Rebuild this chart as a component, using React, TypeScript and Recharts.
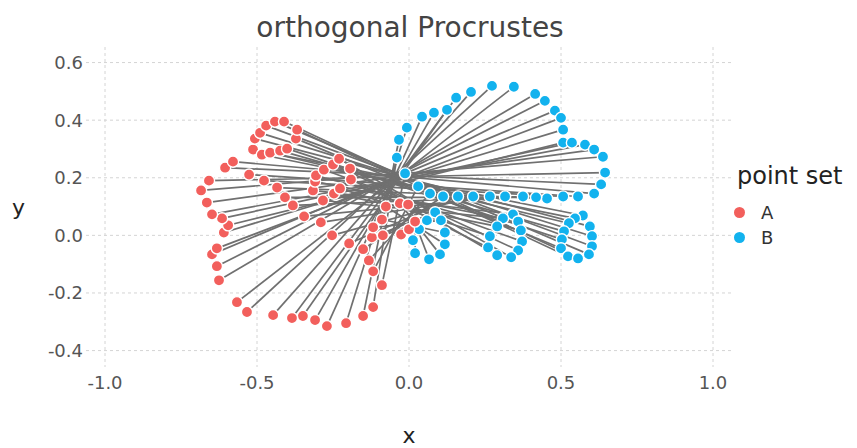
import { CartesianGrid, ReferenceLine, Scatter, ScatterChart, XAxis, YAxis } from 'recharts';

// point set B (outline, then the three loops)
const bX = [
  -0.013, -0.04, -0.033, -0.007, 0.043, 0.082, 0.125, 0.155, 0.204, 0.273, 0.345, 0.415,
  0.447, 0.48, 0.5, 0.507, 0.507, 0.536, 0.579, 0.609, 0.638, 0.645, 0.632, 0.609,
  0.556, 0.507, 0.454, 0.418, 0.375, 0.316, 0.266, 0.211, 0.161, 0.112, 0.069, 0.03,
  0.086, 0.059, 0.105, 0.033, 0.118, 0.013, 0.118, 0.02, 0.102, 0.066,
  0.342, 0.309, 0.359, 0.29, 0.368, 0.266, 0.372, 0.26, 0.359, 0.29, 0.336,
  0.572, 0.546, 0.526, 0.595, 0.51, 0.602, 0.503, 0.602, 0.5, 0.592, 0.523, 0.556,
];
const bY = [
  0.215, 0.27, 0.332, 0.374, 0.412, 0.426, 0.436, 0.478, 0.498, 0.519, 0.516, 0.491,
  0.467, 0.433, 0.408, 0.367, 0.322, 0.322, 0.315, 0.298, 0.273, 0.218, 0.177, 0.145,
  0.135, 0.135, 0.128, 0.132, 0.135, 0.135, 0.135, 0.135, 0.135, 0.135, 0.145, 0.17,
  0.08, 0.052, 0.052, 0.021, 0.01, -0.017, -0.031, -0.062, -0.066, -0.083,
  0.073, 0.059, 0.048, 0.031, 0.017, -0.003, -0.021, -0.042, -0.052, -0.069, -0.076,
  0.069, 0.059, 0.042, 0.031, 0.014, -0.003, -0.014, -0.038, -0.045, -0.066, -0.073, -0.08,
];

// point set A, same order as B
const aX = [
  -0.089, -0.118, -0.151, -0.207, -0.27, -0.309, -0.349, -0.385, -0.447, -0.533, -0.566, -0.625,
  -0.632, -0.648, -0.632, -0.609, -0.595, -0.615, -0.648, -0.665, -0.684, -0.658, -0.605, -0.579,
  -0.526, -0.477, -0.434, -0.408, -0.382, -0.345, -0.29, -0.253, -0.197, -0.151, -0.132, -0.118,
  -0.122, -0.086, -0.118, -0.026, -0.089, 0.0, -0.076, 0.02, -0.03, -0.003,
  -0.316, -0.283, -0.309, -0.247, -0.306, -0.227, -0.28, -0.191, -0.25, -0.194, -0.23,
  -0.513, -0.484, -0.457, -0.507, -0.424, -0.49, -0.401, -0.47, -0.372, -0.441, -0.368, -0.411,
];
const aY = [
  -0.173, -0.249, -0.28, -0.305, -0.315, -0.294, -0.28, -0.287, -0.277, -0.266, -0.232, -0.156,
  -0.107, -0.066, -0.045, 0.01, 0.035, 0.059, 0.073, 0.114, 0.156, 0.19, 0.235, 0.256,
  0.211, 0.19, 0.166, 0.132, 0.104, 0.066, 0.045, 0.0, -0.028, -0.048, -0.087, -0.125,
  -0.007, 0.0, 0.028, 0.003, 0.055, 0.021, 0.1, 0.048, 0.111, 0.107,
  0.156, 0.121, 0.187, 0.145, 0.208, 0.163, 0.228, 0.194, 0.246, 0.232, 0.266,
  0.298, 0.28, 0.287, 0.336, 0.294, 0.356, 0.301, 0.381, 0.336, 0.395, 0.367, 0.395,
];

const xTicks = [-1, -0.5, 0, 0.5, 1];
const yTicks = [-0.4, -0.2, 0, 0.2, 0.4, 0.6];
const setNames = ['A', 'B'];
const setColors = ['#F25F5C', '#12B2EE'];

const FONT = '"DejaVu Sans", sans-serif';

const pointsA = aX.map((x, i) => ({ x, y: aY[i] }));
const pointsB = bX.map((x, i) => ({ x, y: bY[i] }));

const dot = (fill: string) => (props: any) => (
  <circle cx={props.cx} cy={props.cy} r={5.6} fill={fill} stroke="#ffffff" strokeWidth={1.4} />
);

const fmt = (v: number) => v.toFixed(1);

export default function App() {
  return (
    <div style={{ position: 'absolute', left: 0, top: 0, width: 857, height: 448, background: '#fff', fontFamily: FONT }}>
      <div style={{ position: 'absolute', left: 0, width: 820, top: 11, textAlign: 'center', fontSize: 28, color: '#444' }}>
        orthogonal Procrustes
      </div>

      <ScatterChart width={857} height={448} margin={{ top: 47, right: 125, bottom: 0, left: 0 }}>
        <CartesianGrid
          stroke="#d4d4d4"
          strokeDasharray="3 3"
          horizontalValues={yTicks}
          verticalValues={xTicks}
        />
        <XAxis
          type="number"
          dataKey="x"
          domain={[-1.0625, 1.0625]}
          ticks={xTicks}
          interval={0}
          tickFormatter={fmt}
          axisLine={false}
          tickLine={false}
          tickSize={0}
          tickMargin={9}
          height={81}
          allowDataOverflow
          tick={{ fill: '#555', fontSize: 18, fontFamily: FONT }}
          label={{ value: 'x', position: 'insideBottom', offset: 5, fill: '#222', fontSize: 22, fontFamily: FONT }}
        />
        <YAxis
          type="number"
          dataKey="y"
          domain={[-0.457, 0.654]}
          ticks={yTicks}
          interval={0}
          tickFormatter={fmt}
          axisLine={false}
          tickLine={false}
          tickSize={0}
          tickMargin={3}
          width={86}
          allowDataOverflow
          tick={{ fill: '#555', fontSize: 18, fontFamily: FONT }}
          label={{ value: 'y', position: 'insideLeft', offset: 12, angle: 0, fill: '#222', fontSize: 22, fontFamily: FONT }}
        />
        {pointsA.map((a, i) => (
          <ReferenceLine
            key={i}
            segment={[a, pointsB[i]]}
            stroke="#707070"
            strokeWidth={1.7}
            ifOverflow="visible"
          />
        ))}
        <Scatter name={setNames[1]} data={pointsB} shape={dot(setColors[1])} isAnimationActive={false} />
        <Scatter name={setNames[0]} data={pointsA} shape={dot(setColors[0])} isAnimationActive={false} />
      </ScatterChart>

      <div style={{ position: 'absolute', left: 737, top: 162, fontSize: 24, color: '#222' }}>point set</div>
      {setNames.map((name, i) => (
        <div key={name} style={{ position: 'absolute', left: 734, top: 202 + i * 25, display: 'flex', alignItems: 'center', fontSize: 18, color: '#333' }}>
          <span style={{ display: 'inline-block', width: 11, height: 11, borderRadius: '50%', background: setColors[i], marginRight: 16 }} />
          <span>{name}</span>
        </div>
      ))}
    </div>
  );
}
